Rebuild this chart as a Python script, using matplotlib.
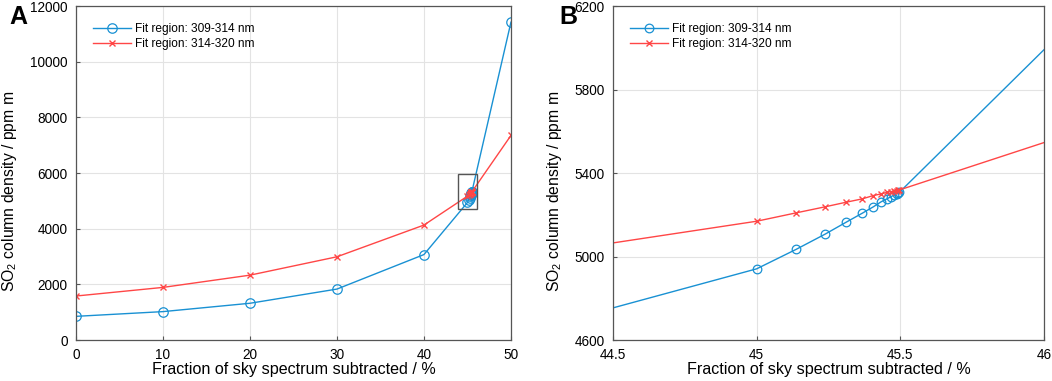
import matplotlib
matplotlib.use("Agg")
import matplotlib.pyplot as plt
from matplotlib.patches import Rectangle

plt.rcParams['font.family'] = ['Liberation Sans', 'DejaVu Sans']
plt.rcParams['mathtext.fontset'] = 'custom'
plt.rcParams['mathtext.rm'] = 'Liberation Sans'

# fraction of sky spectrum subtracted (%)
frac = [0, 10, 20, 30, 40, 45.0, 45.137, 45.238, 45.311, 45.367, 45.406, 45.433,
        45.453, 45.468, 45.479, 45.487, 45.493, 45.497, 50]
# SO2 column density (ppm m)
so2_309 = [850, 1020, 1320, 1830, 3070, 4941, 5034, 5107, 5164, 5207, 5238, 5262,
           5276, 5287, 5295, 5301, 5305, 5308, 11420]
so2_314 = [1580, 1890, 2330, 2990, 4130, 5169, 5209, 5238, 5260, 5276, 5292, 5300,
           5307, 5311, 5314, 5316, 5318, 5319, 7350]

labels = ['Fit region: 309-314 nm', 'Fit region: 314-320 nm']
blue = '#1991d3'
red = '#ff4646'

fig = plt.figure(figsize=(10.52, 3.81), dpi=100)
axA = fig.add_axes([0.0722, 0.1076, 0.4135, 0.8766])
axB = fig.add_axes([0.5827, 0.1076, 0.4097, 0.8766])

def style(ax, ylab_x):
    ax.grid(True, color='#e3e3e3', linewidth=0.8)
    ax.set_axisbelow(True)
    for s in ax.spines.values():
        s.set_color('#555555')
        s.set_linewidth(0.9)
    ax.tick_params(direction='in', length=3, width=0.8, color='#555555',
                   labelsize=9.8, top=False, right=False, pad=6)
    ax.set_xlabel('Fraction of sky spectrum subtracted / %', fontsize=11.6, labelpad=0)
    ax.set_ylabel('SO$_2$ column density / ppm m', fontsize=11.3)
    ax.yaxis.set_label_coords(ylab_x, 0.445)

for ax, ms, lx in [(axA, 6.8, -0.131), (axB, 6.2, -0.113)]:
    ax.plot(frac, so2_309, color=blue, lw=1.0, marker='o', ms=ms,
            mfc='none', mew=0.9, label=labels[0])
    ax.plot(frac, so2_314, color=red, lw=1.0, marker='x', ms=4.5,
            mew=1.0, label=labels[1])
    style(ax, lx)
    ax.legend(loc='upper left', frameon=False, fontsize=8.6,
              handlelength=3.2, borderaxespad=1.0, labelspacing=0.3,
              handletextpad=0.35, borderpad=0.4)

axA.set_xlim(0, 50)
axA.set_ylim(0, 12000)
axA.set_xticks(range(0, 51, 10))
axA.set_yticks(range(0, 12001, 2000))
axA.add_patch(Rectangle((43.9, 4700), 2.2, 1270, fill=False,
                        edgecolor='#555555', lw=1.0, zorder=5))

axB.set_xlim(44.5, 46)
axB.set_ylim(4600, 6200)
axB.set_xticks([44.5, 45, 45.5, 46])
axB.set_xticklabels(['44.5', '45', '45.5', '46'])
axB.set_yticks([4600, 5000, 5400, 5800, 6200])

fig.text(0.009, 0.955, 'A', fontsize=18, fontweight='bold', va='center')
fig.text(0.532, 0.955, 'B', fontsize=18, fontweight='bold', va='center')

fig.savefig('out.png', dpi=100)
